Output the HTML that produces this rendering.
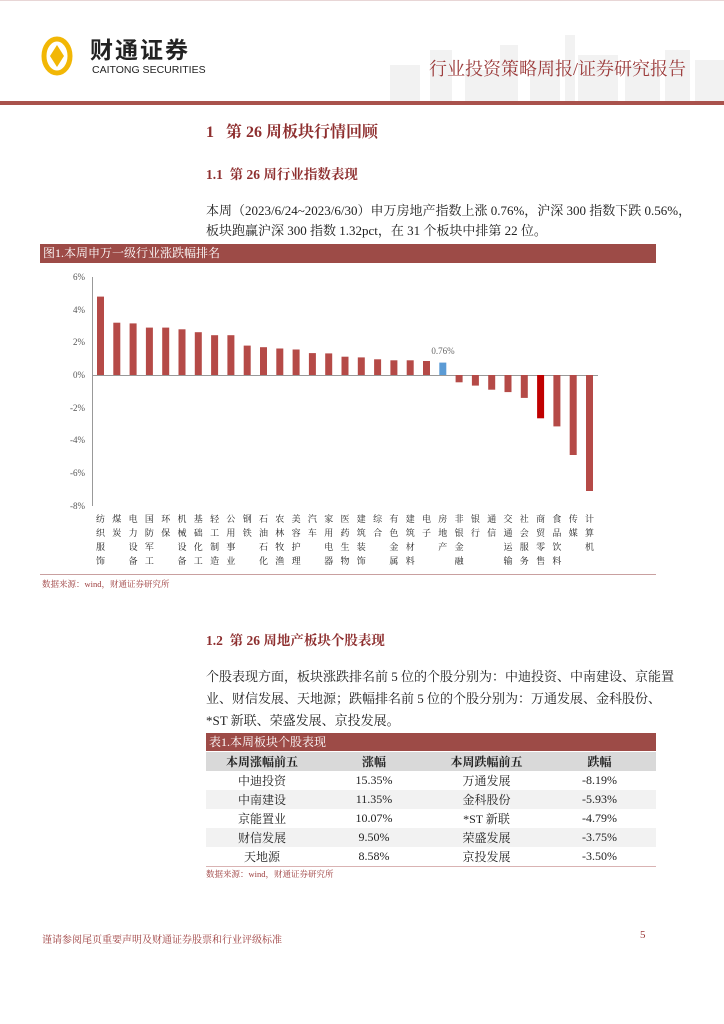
<!DOCTYPE html>
<html><head><meta charset="utf-8">
<style>
body{margin:0;width:724px;height:1024px;position:relative;background:#fff;font-family:"Liberation Serif","Noto Serif CJK SC",serif;color:#222;overflow:hidden}
.a{position:absolute;white-space:nowrap}
.bar{position:absolute;background:#9d4b47;color:#fff;font-size:12px;line-height:19px;padding-left:3px}
table{border-collapse:collapse;font-size:12px}
td{text-align:center;height:19px;padding:0}
</style></head><body>
<div class="a" style="left:0;top:0;width:724px;height:1px;background:#e8d6d6"></div>
<svg class="a" style="left:380px;top:20px" width="344" height="82">
<g fill="#f2f2f2">
<rect x="10" y="45" width="30" height="37"/><rect x="50" y="30" width="22" height="52"/><rect x="85" y="50" width="40" height="32"/>
<rect x="120" y="25" width="18" height="57"/><rect x="150" y="40" width="30" height="42"/><rect x="185" y="15" width="10" height="67"/>
<rect x="198" y="35" width="40" height="47"/><rect x="245" y="45" width="35" height="37"/><rect x="285" y="30" width="25" height="52"/><rect x="315" y="40" width="29" height="42"/>
</g></svg>
<svg class="a" style="left:41px;top:35px" width="32" height="42" viewBox="0 0 32 42">
<ellipse cx="16" cy="21" rx="13" ry="17" fill="none" stroke="#f2b705" stroke-width="5"/><path d="M16 10 L23 21 L16 32 L9 21Z" fill="#f2b705"/></svg>
<div class="a" style="left:90px;top:37px;font-family:'Liberation Sans','Noto Sans CJK SC',sans-serif;font-size:23px;line-height:26px;font-weight:bold;color:#222;letter-spacing:2px">财通证券</div>
<div class="a" style="left:92px;top:64px;font-family:'Liberation Sans',sans-serif;font-size:10.5px;line-height:12px;color:#222">CAITONG SECURITIES</div>
<div class="a" style="left:429px;top:55px;font-size:18px;color:#9b3a3a">行业投资策略周报/证券研究报告</div>
<div class="a" style="left:0;top:101px;width:724px;height:4px;background:#a9524c"></div>

<div class="a" style="left:206px;top:119px;font-size:16px;font-weight:bold;color:#8e2f2f">1&nbsp;&nbsp;&nbsp;第 26 周板块行情回顾</div>
<div class="a" style="left:206px;top:163px;font-size:13.5px;font-weight:bold;color:#8e2f2f">1.1&nbsp;&nbsp;第 26 周行业指数表现</div>
<div class="a" style="left:206px;top:200px;font-size:13px">本周（2023/6/24~2023/6/30）申万房地产指数上涨 0.76%，沪深 300 指数下跌 0.56%，</div>
<div class="a" style="left:206px;top:220px;font-size:13px">板块跑赢沪深 300 指数 1.32pct，在 31 个板块中排第 22 位。</div>

<div class="bar" style="left:40px;top:244px;width:613px;height:19px">图1.本周申万一级行业涨跌幅排名</div>

<svg class="a" style="left:0;top:0" width="724" height="600" font-family="Liberation Serif,Noto Serif CJK SC,serif">
<g font-size="9" fill="#555" text-anchor="end">
<text x="85" y="280">6%</text><text x="85" y="313">4%</text><text x="85" y="345">2%</text><text x="85" y="378">0%</text>
<text x="85" y="411">-2%</text><text x="85" y="443">-4%</text><text x="85" y="476">-6%</text><text x="85" y="509">-8%</text></g>
<line x1="92.5" y1="277" x2="92.5" y2="506" stroke="#999"/>
<line x1="92" y1="375.5" x2="598" y2="375.5" stroke="#999"/>
<g fill="#b54a47">
<rect x="97" y="296.6" width="7" height="78.4"/><rect x="113.3" y="322.7" width="7" height="52.3"/><rect x="129.6" y="323.4" width="7" height="51.6"/>
<rect x="145.9" y="327.6" width="7" height="47.4"/><rect x="162.2" y="327.6" width="7" height="47.4"/><rect x="178.5" y="329.3" width="7" height="45.7"/>
<rect x="194.8" y="332.2" width="7" height="42.8"/><rect x="211.1" y="335.2" width="7" height="39.8"/><rect x="227.4" y="335.2" width="7" height="39.8"/>
<rect x="243.7" y="345.6" width="7" height="29.4"/><rect x="260" y="347.2" width="7" height="27.8"/><rect x="276.3" y="348.5" width="7" height="26.5"/>
<rect x="292.6" y="349.5" width="7" height="25.5"/><rect x="308.9" y="353.1" width="7" height="21.9"/><rect x="325.2" y="353.4" width="7" height="21.6"/>
<rect x="341.5" y="356.7" width="7" height="18.3"/><rect x="357.8" y="357.4" width="7" height="17.6"/><rect x="374.1" y="359.3" width="7" height="15.7"/>
<rect x="390.4" y="360.3" width="7" height="14.7"/><rect x="406.7" y="360.3" width="7" height="14.7"/><rect x="423" y="361" width="7" height="14"/>
<rect x="455.6" y="375" width="7" height="7.3"/><rect x="471.9" y="375" width="7" height="10.6"/><rect x="488.2" y="375" width="7" height="14.7"/>
<rect x="504.5" y="375" width="7" height="17.1"/><rect x="520.8" y="375" width="7" height="22.9"/>
<rect x="553.4" y="375" width="7" height="51.4"/><rect x="569.7" y="375" width="7" height="80"/><rect x="586" y="375" width="7" height="116"/>
</g>
<rect x="439.3" y="362.6" width="7" height="12.4" fill="#5b9bd5"/>
<rect x="537.1" y="375" width="7" height="43.3" fill="#c00000"/>
<text x="443" y="354" font-size="9" fill="#666" text-anchor="middle">0.76%</text>
<g font-size="9" fill="#222" text-anchor="middle">
<text x="100.5" y="522">纺</text><text x="100.5" y="536">织</text><text x="100.5" y="550">服</text><text x="100.5" y="564">饰</text>
<text x="116.8" y="522">煤</text><text x="116.8" y="536">炭</text>
<text x="133.1" y="522">电</text><text x="133.1" y="536">力</text><text x="133.1" y="550">设</text><text x="133.1" y="564">备</text>
<text x="149.4" y="522">国</text><text x="149.4" y="536">防</text><text x="149.4" y="550">军</text><text x="149.4" y="564">工</text>
<text x="165.7" y="522">环</text><text x="165.7" y="536">保</text>
<text x="182" y="522">机</text><text x="182" y="536">械</text><text x="182" y="550">设</text><text x="182" y="564">备</text>
<text x="198.3" y="522">基</text><text x="198.3" y="536">础</text><text x="198.3" y="550">化</text><text x="198.3" y="564">工</text>
<text x="214.6" y="522">轻</text><text x="214.6" y="536">工</text><text x="214.6" y="550">制</text><text x="214.6" y="564">造</text>
<text x="230.9" y="522">公</text><text x="230.9" y="536">用</text><text x="230.9" y="550">事</text><text x="230.9" y="564">业</text>
<text x="247.2" y="522">钢</text><text x="247.2" y="536">铁</text>
<text x="263.5" y="522">石</text><text x="263.5" y="536">油</text><text x="263.5" y="550">石</text><text x="263.5" y="564">化</text>
<text x="279.8" y="522">农</text><text x="279.8" y="536">林</text><text x="279.8" y="550">牧</text><text x="279.8" y="564">渔</text>
<text x="296.1" y="522">美</text><text x="296.1" y="536">容</text><text x="296.1" y="550">护</text><text x="296.1" y="564">理</text>
<text x="312.4" y="522">汽</text><text x="312.4" y="536">车</text>
<text x="328.7" y="522">家</text><text x="328.7" y="536">用</text><text x="328.7" y="550">电</text><text x="328.7" y="564">器</text>
<text x="345" y="522">医</text><text x="345" y="536">药</text><text x="345" y="550">生</text><text x="345" y="564">物</text>
<text x="361.3" y="522">建</text><text x="361.3" y="536">筑</text><text x="361.3" y="550">装</text><text x="361.3" y="564">饰</text>
<text x="377.6" y="522">综</text><text x="377.6" y="536">合</text>
<text x="393.9" y="522">有</text><text x="393.9" y="536">色</text><text x="393.9" y="550">金</text><text x="393.9" y="564">属</text>
<text x="410.2" y="522">建</text><text x="410.2" y="536">筑</text><text x="410.2" y="550">材</text><text x="410.2" y="564">料</text>
<text x="426.5" y="522">电</text><text x="426.5" y="536">子</text>
<text x="442.8" y="522">房</text><text x="442.8" y="536">地</text><text x="442.8" y="550">产</text>
<text x="459.1" y="522">非</text><text x="459.1" y="536">银</text><text x="459.1" y="550">金</text><text x="459.1" y="564">融</text>
<text x="475.4" y="522">银</text><text x="475.4" y="536">行</text>
<text x="491.7" y="522">通</text><text x="491.7" y="536">信</text>
<text x="508" y="522">交</text><text x="508" y="536">通</text><text x="508" y="550">运</text><text x="508" y="564">输</text>
<text x="524.3" y="522">社</text><text x="524.3" y="536">会</text><text x="524.3" y="550">服</text><text x="524.3" y="564">务</text>
<text x="540.6" y="522">商</text><text x="540.6" y="536">贸</text><text x="540.6" y="550">零</text><text x="540.6" y="564">售</text>
<text x="556.9" y="522">食</text><text x="556.9" y="536">品</text><text x="556.9" y="550">饮</text><text x="556.9" y="564">料</text>
<text x="573.2" y="522">传</text><text x="573.2" y="536">媒</text>
<text x="589.5" y="522">计</text><text x="589.5" y="536">算</text><text x="589.5" y="550">机</text>
</g>
<line x1="40" y1="574.5" x2="656" y2="574.5" stroke="#c9a0a0"/>
<text x="42" y="587" font-size="8.5" fill="#9b3a3a">数据来源：wind，财通证券研究所</text>
</svg>

<div class="a" style="left:206px;top:629px;font-size:13.5px;font-weight:bold;color:#8e2f2f">1.2&nbsp;&nbsp;第 26 周地产板块个股表现</div>
<div class="a" style="left:206px;top:666px;font-size:13px">个股表现方面，板块涨跌排名前 5 位的个股分别为：中迪投资、中南建设、京能置</div>
<div class="a" style="left:206px;top:688px;font-size:13px">业、财信发展、天地源；跌幅排名前 5 位的个股分别为：万通发展、金科股份、</div>
<div class="a" style="left:206px;top:710px;font-size:13px">*ST 新联、荣盛发展、京投发展。</div>

<div class="bar" style="left:206px;top:733px;width:447px;height:18px;line-height:18px">表1.本周板块个股表现</div>
<table class="a" style="left:206px;top:752px;width:450px">
<tr style="background:#d9d9d9;font-weight:bold"><td style="width:112px">本周涨幅前五</td><td style="width:112px">涨幅</td><td style="width:113px">本周跌幅前五</td><td>跌幅</td></tr>
<tr><td>中迪投资</td><td>15.35%</td><td>万通发展</td><td>-8.19%</td></tr>
<tr style="background:#f2f2f2"><td>中南建设</td><td>11.35%</td><td>金科股份</td><td>-5.93%</td></tr>
<tr><td>京能置业</td><td>10.07%</td><td>*ST 新联</td><td>-4.79%</td></tr>
<tr style="background:#f2f2f2"><td>财信发展</td><td>9.50%</td><td>荣盛发展</td><td>-3.75%</td></tr>
<tr style="border-bottom:1px solid #d9b3b3"><td>天地源</td><td>8.58%</td><td>京投发展</td><td>-3.50%</td></tr>
</table>
<div class="a" style="left:206px;top:868px;font-size:8.5px;color:#9b3a3a">数据来源：wind，财通证券研究所</div>

<div class="a" style="left:42px;top:931px;font-size:10px;color:#9b3a3a">谨请参阅尾页重要声明及财通证券股票和行业评级标准</div>
<div class="a" style="left:640px;top:929px;font-size:11px;color:#9b3a3a">5</div>
</body></html>
